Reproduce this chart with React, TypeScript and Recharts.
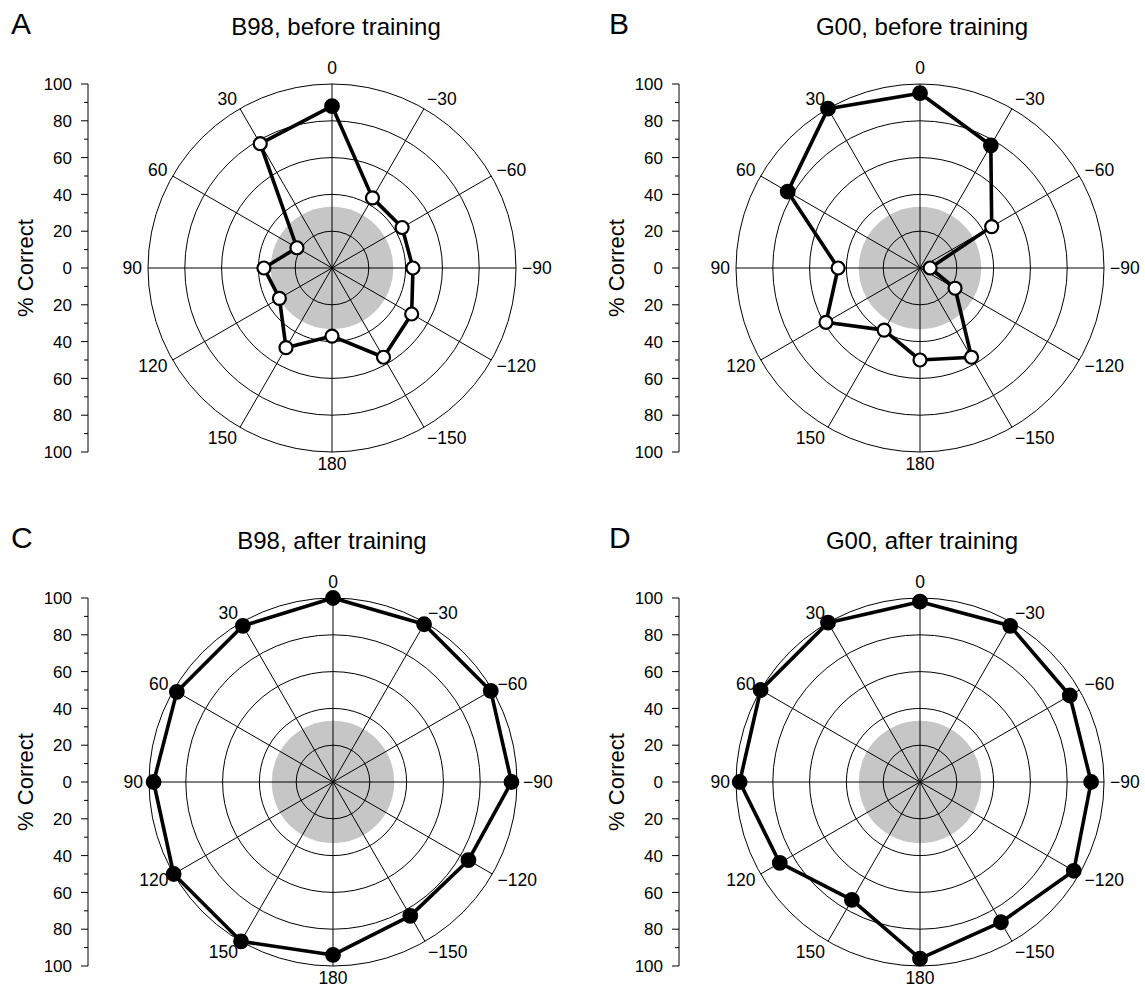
import React from 'react';
import {
  RadarChart,
  PolarGrid,
  PolarAngleAxis,
  PolarRadiusAxis,
  Radar,
  LineChart,
  Line,
  XAxis,
  YAxis,
} from 'recharts';

// ---------- data ----------
// angle categories, clockwise from the top
const angleLabels = ['0', '\u221230', '\u221260', '\u221290', '\u2212120', '\u2212150', '180', '150', '120', '90', '60', '30'];

const b98Before = [88, 44, 44, 44, 50, 56, 37, 50, 33, 37, 22, 78];
const b98BeforeSig = [true, false, false, false, false, false, false, false, false, false, false, false];

const g00Before = [95, 77, 45, 5.5, 22, 56, 50, 39, 59, 44.5, 83, 100];
const g00BeforeSig = [true, true, false, false, false, false, false, false, false, false, true, true];

const b98After = [100, 99, 99, 97, 85, 84, 94, 100, 100, 97.5, 98, 98];
const b98AfterSig = [true, true, true, true, true, true, true, true, true, true, true, true];

const g00After = [98, 98, 94, 93, 96.5, 88, 96, 74, 88, 98, 100, 100];
const g00AfterSig = [true, true, true, true, true, true, true, true, true, true, true, true];

const chanceLevel = 33.3;
const radialTicks = [0, 20, 40, 60, 80, 100];
const yTicks = [-100, -90, -80, -70, -60, -50, -40, -30, -20, -10, 0, 10, 20, 30, 40, 50, 60, 70, 80, 90, 100];

const panelLetters = ['A', 'B', 'C', 'D'];
const panelTitles = ['B98, before training', 'G00, before training', 'B98, after training', 'G00, after training'];
const yAxisLabel = '% Correct';

// ---------- layout ----------
const FONT = '"Liberation Sans", Arial, Helvetica, sans-serif';
const R = 184;
const PAD = 60;
const AW = 90; // y axis area width

const layout = [
  { cx: 332, cy: 268, axisX: 88, titleX: 336, titleY: 35, letterX: 11, letterY: 34 },
  { cx: 920, cy: 268, axisX: 679, titleX: 922, titleY: 35, letterX: 609, letterY: 34 },
  { cx: 333, cy: 782, axisX: 88, titleX: 332, titleY: 549, letterX: 11, letterY: 548 },
  { cx: 920, cy: 782, axisX: 679, titleX: 922, titleY: 549, letterX: 609, letterY: 548 },
];

const seriesList = [b98Before, g00Before, b98After, g00After];
const sigList = [b98BeforeSig, g00BeforeSig, b98AfterSig, g00AfterSig];

function AngleTick(props: any) {
  const { x, y, payload } = props;
  const a = (payload.coordinate * Math.PI) / 180;
  const s = Math.sin(a);
  const c = Math.cos(a);
  const anchor = c > 0.1 ? 'start' : c < -0.1 ? 'end' : 'middle';
  const h = 12;
  let yc = y - s * h / 2;
  if (s > 0.95) yc -= 4;
  return (
    <text x={x} y={yc} dy="0.36em" textAnchor={anchor} fontFamily={FONT} fontSize={17.5} fill="#000">
      {payload.value}
    </text>
  );
}

function YTick(props: any) {
  const { y, payload } = props;
  const v = payload.value;
  const major = Math.abs(v) % 20 === 0;
  const len = major ? 7 : 4;
  return (
    <g>
      <line x1={AW - len} x2={AW} y1={y} y2={y} stroke="#000" strokeWidth={1} />
      {major && (
        <text x={AW - 16} y={y} dy="0.36em" textAnchor="end" fontFamily={FONT} fontSize={17} fill="#000">
          {Math.abs(v)}
        </text>
      )}
    </g>
  );
}

const yData = yTicks.map((t) => ({ t, v: 0 }));

function ChanceDisk(props: any) {
  const pts = props.points || [];
  if (!pts.length) return null;
  let mx = 0;
  let my = 0;
  pts.forEach((p: any) => {
    mx += p.x;
    my += p.y;
  });
  mx /= pts.length;
  my /= pts.length;
  const r = Math.hypot(pts[0].x - mx, pts[0].y - my);
  return <circle cx={mx} cy={my} r={r} fill="#000" fillOpacity={0.225} stroke="none" />;
}

function Panel({ idx }: { idx: number }) {
  const L = layout[idx];
  const values = seriesList[idx];
  const sig = sigList[idx];
  const data = angleLabels.map((label, i) => ({ label, value: values[i], chance: chanceLevel }));
  const size = 2 * (R + PAD);
  const axisTop = L.cy - R - 20;

  const renderDot = (p: any) => {
    const filled = sig[p.index];
    return (
      <circle
        key={`dot-${idx}-${p.index}`}
        cx={p.cx}
        cy={p.cy}
        r={filled ? 6.8 : 6.5}
        fill={filled ? '#000' : '#fff'}
        stroke="#000"
        strokeWidth={2.2}
      />
    );
  };

  return (
    <>
      <div style={{ position: 'absolute', left: L.axisX - AW, top: axisTop }}>
        <LineChart width={AW + 30} height={2 * R + 40} data={yData} margin={{ top: 20, bottom: 20, left: 0, right: 10 }}>
          <XAxis dataKey="t" hide />
          <YAxis
            type="number"
            domain={[-100, 100]}
            ticks={yTicks}
            interval={0}
            width={AW}
            tickLine={false}
            tickSize={0}
            axisLine={{ stroke: '#000', strokeWidth: 1 }}
            tick={<YTick />}
          />
          <Line dataKey="v" stroke="none" dot={false} isAnimationActive={false} />
        </LineChart>
      </div>
      <div style={{ position: 'absolute', left: L.cx - size / 2, top: L.cy - size / 2 }}>
        <RadarChart width={size} height={size} data={data} cx={size / 2} cy={size / 2} outerRadius={R} margin={{ top: 0, right: 0, bottom: 0, left: 0 }}>
          <PolarGrid gridType="circle" stroke="#000" strokeWidth={1} strokeOpacity={1} />
          <PolarAngleAxis dataKey="label" tickLine={false} axisLine={false} tickSize={6} tick={<AngleTick />} />
          <PolarRadiusAxis domain={[0, 100]} ticks={radialTicks as any} tick={false} axisLine={false} />
          <Radar dataKey="chance" isAnimationActive={false} shape={(p: any) => <ChanceDisk {...p} />} />
          <Radar
            dataKey="value"
            stroke="#000"
            strokeWidth={3.6}
            fill="none"
            strokeLinejoin="round"
            dot={renderDot}
            isAnimationActive={false}
          />
        </RadarChart>
      </div>
    </>
  );
}

export default function App() {
  return (
    <div style={{ position: 'absolute', left: 0, top: 0, width: 1145, height: 990, background: '#fff', overflow: 'hidden' }}>
      {[0, 1, 2, 3].map((i) => (
        <Panel key={i} idx={i} />
      ))}
      <svg width={1145} height={990} style={{ position: 'absolute', left: 0, top: 0, pointerEvents: 'none' }}>
        {layout.map((L, i) => (
          <g key={i}>
            <text x={L.letterX} y={L.letterY} fontFamily={FONT} fontSize={30} fill="#000">
              {panelLetters[i]}
            </text>
            <text x={L.titleX} y={L.titleY} textAnchor="middle" fontFamily={FONT} fontSize={24} fill="#000">
              {panelTitles[i]}
            </text>
            <text
              x={L.axisX - 63}
              y={L.cy}
              textAnchor="middle"
              transform={`rotate(-90 ${L.axisX - 63} ${L.cy})`}
              dy="0.36em"
              fontFamily={FONT}
              fontSize={22}
              fill="#000"
            >
              {yAxisLabel}
            </text>
          </g>
        ))}
      </svg>
    </div>
  );
}
